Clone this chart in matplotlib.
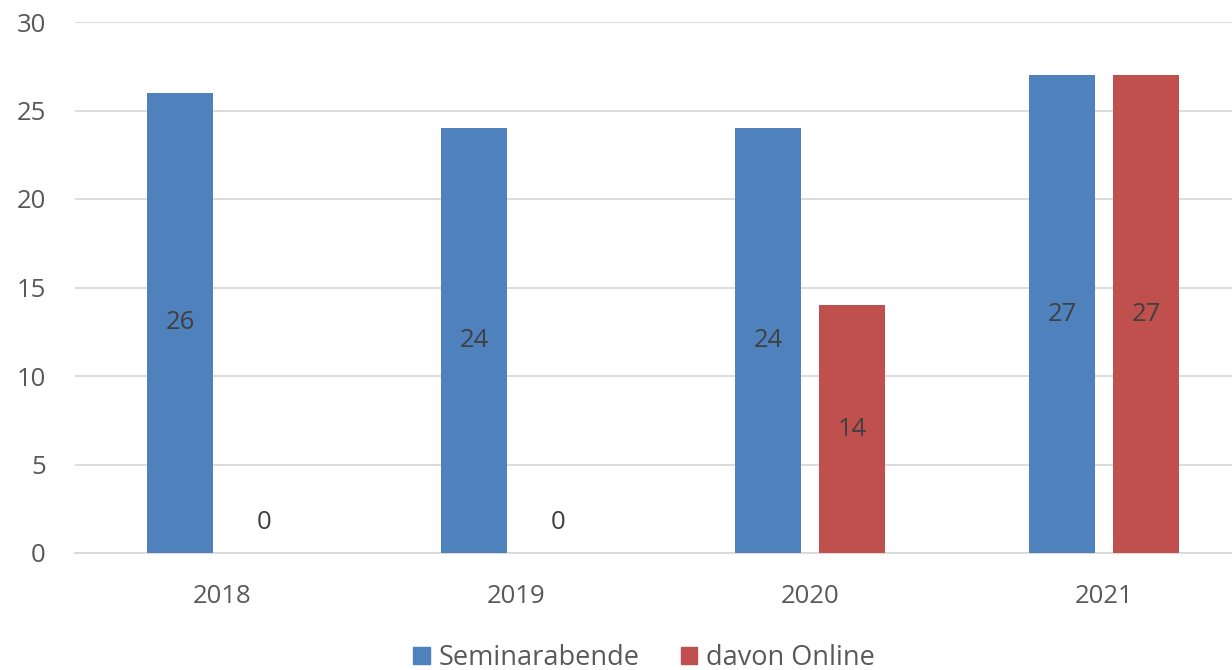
import matplotlib.pyplot as plt
import numpy as np
from matplotlib.patches import Patch

years = ["2018", "2019", "2020", "2021"]
seminarabende = [26, 24, 24, 27]
davon_online = [0, 0, 14, 27]

blue = "#4F81BD"
red = "#C0504D"
grey = "#595959"

plt.rcParams["font.family"] = ["Open Sans", "DejaVu Sans"]

fig = plt.figure(figsize=(12.32, 6.70), dpi=100)
ax = fig.add_axes([75 / 1232, 117 / 670, 1176 / 1232, 531 / 670])

x = np.arange(len(years))
w = 0.224
off = 0.143
b1 = ax.bar(x - off, seminarabende, w, color=blue, zorder=3)
b2 = ax.bar(x + off, davon_online, w, color=red, zorder=3)

# Beschriftungen mittig im Balken (bei 0 etwas oberhalb der Achse)
for bars, vals in [(b1, seminarabende), (b2, davon_online)]:
    for rect, v in zip(bars, vals):
        ypos = v / 2 if v > 0 else 1.7
        ax.text(rect.get_x() + rect.get_width() / 2, ypos, str(v),
                ha="center", va="center", fontsize=18.5, color="#404040", zorder=4)

ax.set_xlim(-0.5, len(years) - 0.5)
ax.set_ylim(0, 30)
ax.set_yticks(range(0, 31, 5))
ax.set_xticks(x)
ax.set_xticklabels(years)
ax.tick_params(axis="both", length=0, labelsize=18.5, labelcolor=grey)
ax.tick_params(axis="y", pad=21)
ax.tick_params(axis="x", pad=22)
ax.grid(axis="y", color="#d9d9d9", linewidth=1.3, zorder=0)
for s in ["top", "right", "left"]:
    ax.spines[s].set_visible(False)
ax.spines["bottom"].set_color("#d9d9d9")
ax.spines["bottom"].set_linewidth(1.3)

handles = [Patch(color=blue, label="Seminarabende"),
           Patch(color=red, label="davon Online")]
leg = fig.legend(handles=handles, loc="center", bbox_to_anchor=(0.523, 12 / 670),
                 ncol=2, frameon=False, fontsize=19.5, handlelength=0.6,
                 handleheight=0.6, handletextpad=0.35, columnspacing=1.5)
for t in leg.get_texts():
    t.set_color(grey)

fig.savefig("out.png", dpi=100)
